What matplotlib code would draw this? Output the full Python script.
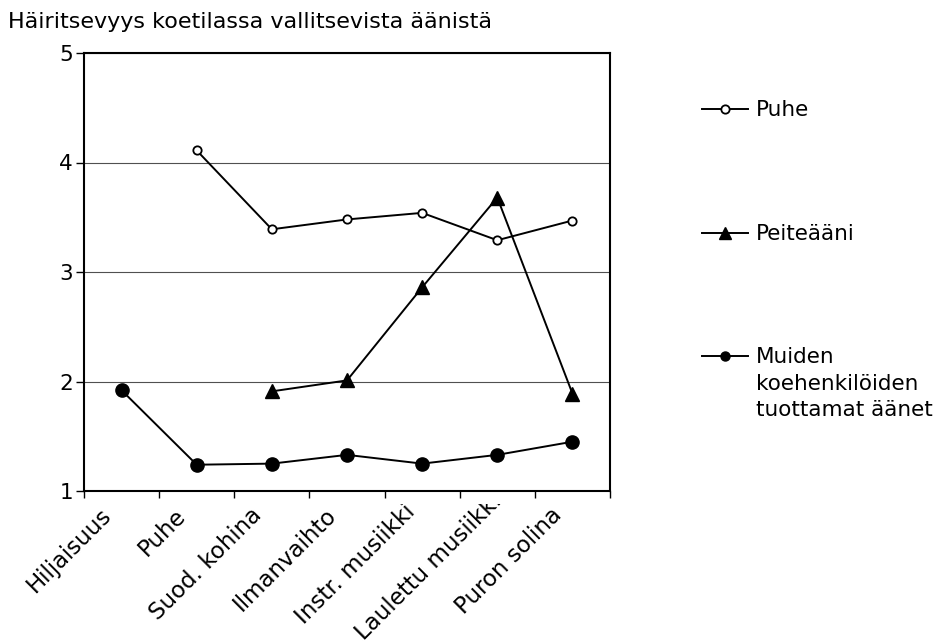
import numpy as np
import matplotlib.pyplot as plt
from matplotlib.lines import Line2D
from matplotlib.transforms import ScaledTranslation, Bbox, TransformedBbox

# Ratings per sound condition (1-5 scale); missing conditions left as NaN
categories = ["Hiljaisuus", "Puhe", "Suod. kohina", "Ilmanvaihto",
              "Instr. musiikki", "Laulettu musiikki", "Puron solina"]
puhe = [np.nan, 4.11, 3.39, 3.48, 3.54, 3.29, 3.47]
peiteaani = [np.nan, np.nan, 1.91, 2.01, 2.86, 3.68, 1.89]
muiden = [1.92, 1.24, 1.25, 1.33, 1.25, 1.33, 1.45]
series_names = ["Puhe", "Peiteääni", "Muiden\nkoehenkilöiden\ntuottamat äänet"]
yticks = [1, 2, 3, 4, 5]
title = "Häiritsevyys koetilassa vallitsevista äänistä"

plt.rcParams['font.family'] = ['DejaVu Sans']
W, H = 934, 643
fig = plt.figure(figsize=(W / 100, H / 100), dpi=100)
ax = fig.add_axes([84 / W, 1 - 491 / H, 526 / W, 438 / H])

x = np.arange(len(categories))
styles = [
    dict(marker='o', ms=6, mfc='white', mec='black', mew=1.3),
    dict(marker='^', ms=10, mfc='black', mec='black'),
    dict(marker='o', ms=9.5, mfc='black', mec='black'),
]
for vals, st in zip([puhe, peiteaani, muiden], styles):
    ax.plot(x, vals, color='black', lw=1.4, **st)

ax.set_xlim(-0.5, len(categories) - 0.5)
ax.set_ylim(yticks[0], yticks[-1])
ax.set_yticks(yticks)
ax.yaxis.grid(True, color='#505050', lw=0.8)
ax.set_axisbelow(True)
for sp in ax.spines.values():
    sp.set_linewidth(1.5)

ax.tick_params(axis='y', length=6, width=1, pad=2, labelsize=15.5)
ax.set_xticks(x)
ax.set_xticklabels(categories, rotation=45, ha='right', va='center',
                   rotation_mode='anchor', fontsize=16.5)
ax.set_xticks(np.arange(len(categories) + 1) - 0.5, minor=True)
ax.tick_params(axis='x', which='major', length=0, pad=15)
ax.tick_params(axis='x', which='minor', length=5, width=1)

# long labels are pushed up along their slant and cut off just below the axis
clip = TransformedBbox(Bbox.from_extents(0, 0, 1, 1 - 504 / H), fig.transFigure)
nudge = [0, 0, 0, 0, 5, 20, 0]
for lab, d in zip(ax.get_xticklabels(), nudge):
    off = ScaledTranslation((-14 + 0.707 * d) / 100, 0.707 * d / 100,
                            fig.dpi_scale_trans)
    lab.set_transform(lab.get_transform() + off)
    lab.set_clip_box(clip)
    lab.set_clip_on(True)

fig.text(8 / W, 1 - 28 / H, title, fontsize=16, ha='left', va='baseline')

# legend on the right: handle line + marker, label top-aligned next to it
leg_y = [109, 233, 356]
leg_ms = [6, 9, 6.5]
for name, y, st, ms in zip(series_names, leg_y, styles, leg_ms):
    st = dict(st, ms=ms)
    fig.add_artist(Line2D([702 / W, 748 / W], [1 - y / H, 1 - y / H],
                          transform=fig.transFigure, color='black', lw=1.4))
    fig.add_artist(Line2D([725 / W], [1 - y / H], transform=fig.transFigure,
                          color='black', **st))
    fig.text(756 / W, 1 - (y - 9) / H, name, fontsize=15.5, ha='left',
             va='top', linespacing=1.42)

fig.savefig('out.png', dpi=100)
